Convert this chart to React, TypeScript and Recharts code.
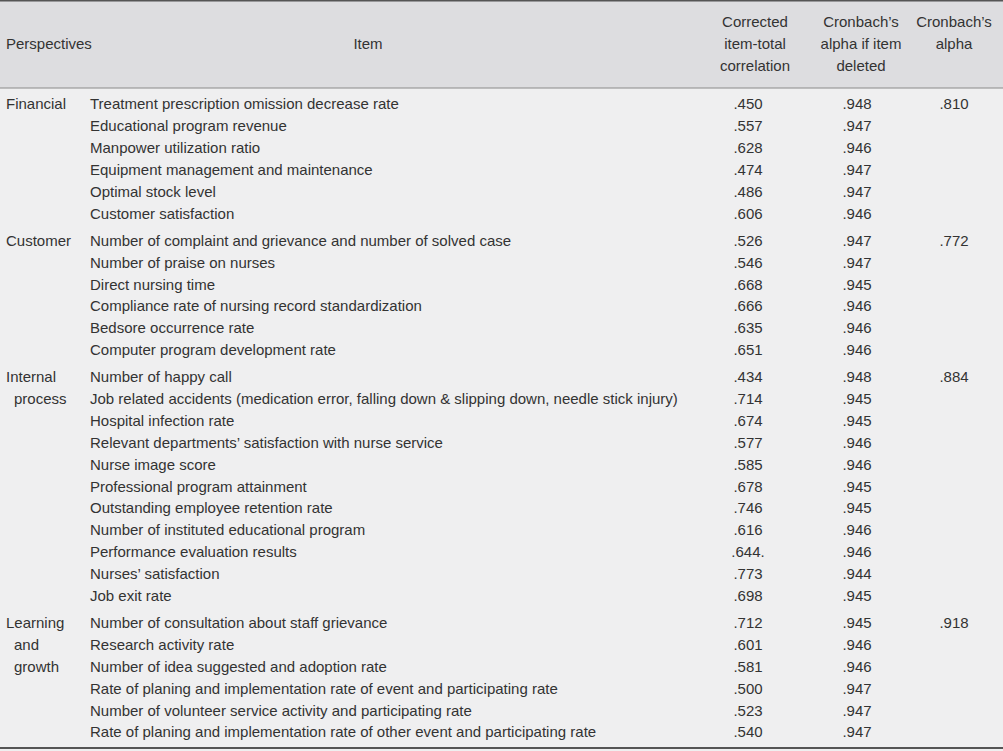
import React from 'react';
import { ScatterChart, Scatter, XAxis, YAxis, ReferenceArea, ReferenceLine } from 'recharts';

// perspective groups
const perspectives = ['Financial', 'Customer', 'Internal\nprocess', 'Learning\nand\ngrowth'];
const groupAlpha = ['.810', '.772', '.884', '.918'];

const financialItems = [
  'Treatment prescription omission decrease rate',
  'Educational program revenue',
  'Manpower utilization ratio',
  'Equipment management and maintenance',
  'Optimal stock level',
  'Customer satisfaction',
];
const financialCorr = ['.450', '.557', '.628', '.474', '.486', '.606'];
const financialDeleted = ['.948', '.947', '.946', '.947', '.947', '.946'];

const customerItems = [
  'Number of complaint and grievance and number of solved case',
  'Number of praise on nurses',
  'Direct nursing time',
  'Compliance rate of nursing record standardization',
  'Bedsore occurrence rate',
  'Computer program development rate',
];
const customerCorr = ['.526', '.546', '.668', '.666', '.635', '.651'];
const customerDeleted = ['.947', '.947', '.945', '.946', '.946', '.946'];

const internalItems = [
  'Number of happy call',
  'Job related accidents (medication error, falling down & slipping down, needle stick injury)',
  'Hospital infection rate',
  'Relevant departments\u2019 satisfaction with nurse service',
  'Nurse image score',
  'Professional program attainment',
  'Outstanding employee retention rate',
  'Number of instituted educational program',
  'Performance evaluation results',
  'Nurses\u2019 satisfaction',
  'Job exit rate',
];
const internalCorr = ['.434', '.714', '.674', '.577', '.585', '.678', '.746', '.616', '.644.', '.773', '.698'];
const internalDeleted = ['.948', '.945', '.945', '.946', '.946', '.945', '.945', '.946', '.946', '.944', '.945'];

const learningItems = [
  'Number of consultation about staff grievance',
  'Research activity rate',
  'Number of idea suggested and adoption rate',
  'Rate of planing and implementation rate of event and participating rate',
  'Number of volunteer service activity and participating rate',
  'Rate of planing and implementation rate of other event and participating rate',
];
const learningCorr = ['.712', '.601', '.581', '.500', '.523', '.540'];
const learningDeleted = ['.945', '.946', '.946', '.947', '.947', '.947'];

const headers = {
  perspectives: 'Perspectives',
  item: 'Item',
  corr: ['Corrected', 'item-total', 'correlation'],
  deleted: ['Cronbach\u2019s', 'alpha if item', 'deleted'],
  alpha: ['Cronbach\u2019s', 'alpha'],
};

// layout
const W = 1003;
const H = 751;
const ROW_PX = 21.85;
const FIRST_ROW_PX = 104;
const GROUP_GAP = 0.25;
const toVal = (px: number) => (px - FIRST_ROW_PX) / ROW_PX;
const FONT = '"Liberation Sans", Arial, sans-serif';
const INK = '#333333';

const groups = [
  { items: financialItems, corr: financialCorr, del: financialDeleted },
  { items: customerItems, corr: customerCorr, del: customerDeleted },
  { items: internalItems, corr: internalCorr, del: internalDeleted },
  { items: learningItems, corr: learningCorr, del: learningDeleted },
];

let idx = 0;
const rows = groups.flatMap((g, gi) =>
  g.items.map((item, k) => ({
    x: 0.5,
    y: idx++ + gi * GROUP_GAP,
    item,
    corr: g.corr[k],
    del: g.del[k],
    perspective: k === 0 ? perspectives[gi] : null,
    alpha: k === 0 ? groupAlpha[gi] : null,
  }))
);

const txt = { fontFamily: FONT, fontSize: 15, fill: INK };

const RowShape = (props: any) => {
  const { cy, payload } = props;
  return (
    <g>
      {payload.perspective &&
        payload.perspective.split('\n').map((line: string, i: number) => (
          <text key={i} x={i === 0 ? 6 : 14} y={cy + i * ROW_PX} dy="0.35em" {...txt}>
            {line}
          </text>
        ))}
      <text x={90} y={cy} dy="0.35em" {...txt}>{payload.item}</text>
      <text x={748} y={cy} dy="0.35em" textAnchor="middle" {...txt}>{payload.corr}</text>
      <text x={857} y={cy} dy="0.35em" textAnchor="middle" {...txt}>{payload.del}</text>
      {payload.alpha && (
        <text x={954} y={cy} dy="0.35em" textAnchor="middle" {...txt}>{payload.alpha}</text>
      )}
    </g>
  );
};

const HeaderCells = (props: any) => {
  const vb = props.viewBox || { x: 0, y: 0, width: W, height: 88 };
  const top = vb.y;
  const line = (n: number) => top + 22 + n * 22;
  return (
    <g>
      <text x={6} y={line(1)} dy="0.35em" {...txt}>{headers.perspectives}</text>
      <text x={368} y={line(1)} dy="0.35em" textAnchor="middle" {...txt}>{headers.item}</text>
      {headers.corr.map((s, i) => (
        <text key={'c' + i} x={755} y={line(i)} dy="0.35em" textAnchor="middle" {...txt}>{s}</text>
      ))}
      {headers.deleted.map((s, i) => (
        <text key={'d' + i} x={861} y={line(i)} dy="0.35em" textAnchor="middle" {...txt}>{s}</text>
      ))}
      {headers.alpha.map((s, i) => (
        <text key={'a' + i} x={954} y={line(i)} dy="0.35em" textAnchor="middle" {...txt}>{s}</text>
      ))}
    </g>
  );
};

const yMin = toVal(0);
const yMax = toVal(H);

export default function App() {
  return (
    <div style={{ position: 'absolute', left: 0, top: 0, width: W, height: H, background: '#efeff0' }}>
      <ScatterChart width={W} height={H} margin={{ top: 0, right: 0, bottom: 0, left: 0 }}>
        <XAxis type="number" dataKey="x" domain={[0, 1]} hide />
        <YAxis type="number" dataKey="y" domain={[yMin, yMax]} reversed hide />
        <ReferenceArea
          x1={0}
          x2={1}
          y1={yMin}
          y2={toVal(88)}
          fill="#dddde0"
          fillOpacity={1}
          stroke="none"
          label={(p: any) => <HeaderCells {...p} />}
        />
        <ReferenceLine y={toVal(0.75)} stroke="#555555" strokeWidth={1.5} />
        <ReferenceLine y={toVal(88)} stroke="#8a8a8a" strokeWidth={1} />
        <ReferenceLine y={toVal(748)} stroke="#555555" strokeWidth={2} />
        <Scatter data={rows} shape={RowShape} isAnimationActive={false} />
      </ScatterChart>
    </div>
  );
}
